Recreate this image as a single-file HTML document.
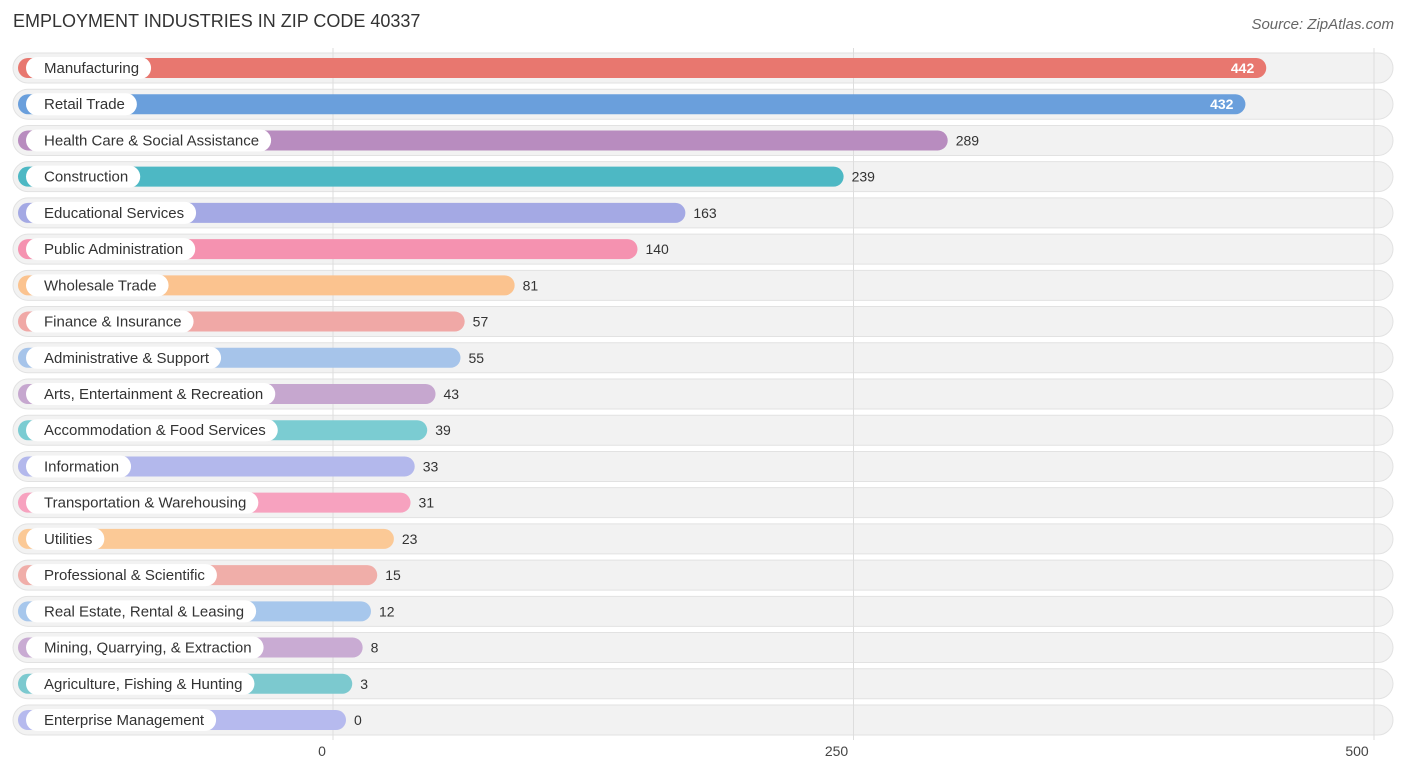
<!DOCTYPE html>
<html><head><meta charset="utf-8"><style>
body{margin:0;background:#fff;font-family:"Liberation Sans",sans-serif;}
#wrap{position:relative;width:1406px;height:776px;overflow:hidden;}
.t{position:absolute;white-space:nowrap;}
</style></head><body>
<div id="wrap">
<div class="t" style="left:13px;top:11px;font-size:18px;color:#333;">EMPLOYMENT INDUSTRIES IN ZIP CODE 40337</div>
<div class="t" style="right:12px;top:16px;font-size:15px;color:#666;font-style:italic;">Source: ZipAtlas.com</div>
<svg id="svg" width="1406" height="776" style="position:absolute;left:0;top:0"></svg>
</div>
<script>
const categories=["Manufacturing","Retail Trade","Health Care & Social Assistance","Construction","Educational Services","Public Administration","Wholesale Trade","Finance & Insurance","Administrative & Support","Arts, Entertainment & Recreation","Accommodation & Food Services","Information","Transportation & Warehousing","Utilities","Professional & Scientific","Real Estate, Rental & Leasing","Mining, Quarrying, & Extraction","Agriculture, Fishing & Hunting","Enterprise Management"];
const values=[442,432,289,239,163,140,81,57,55,43,39,33,31,23,15,12,8,3,0];
const colors=["#e8776f","#6a9fdc","#b88cbf","#4db8c4","#a4a9e4","#f592b0","#fbc38f","#f0a8a6","#a6c4ea","#c6a7cf","#7bccd2","#b3b8ec","#f7a2bf","#fbc996","#f0aea9","#a7c7ec","#c9abd3","#7cc9cf","#b6baee"];
const ticks=[0,250,500];
const NS="http://www.w3.org/2000/svg";
const svg=document.getElementById('svg');
const x=v=>333+v*(1374-333)/500;
const y=i=>68+i*(720-68)/18;
function mk(tag,attrs){const e=document.createElementNS(NS,tag);for(const k in attrs)e.setAttribute(k,attrs[k]);svg.appendChild(e);return e;}
categories.forEach((c,i)=>{
  const r=mk('rect',{x:13,y:y(i)-15,width:1380,height:30,rx:15,fill:'#f2f2f2',stroke:'#e2e2e2'});
  
  
});
ticks.forEach(t=>{
  const l=mk('line',{x1:x(t),x2:x(t),y1:48,y2:740,stroke:'#ddd'});
  
  
  const tx=mk('text',{x:x(t)-(t===0?11:17),y:756,'font-size':14,fill:'#444','text-anchor':'middle'});
  tx.textContent=t;
  
  
});
categories.forEach((c,i)=>{
  const yc=y(i),end=x(values[i])+13;
  const b=mk('rect',{x:18,y:yc-10,width:end-18,height:20,rx:10,fill:colors[i]});
  
  
  const p=mk('rect',{x:26,y:yc-11,width:100,height:22,rx:11,fill:'#fff'});
  
  
  const lt=mk('text',{x:44,y:yc+5,'font-size':15,fill:'#333'});
  lt.textContent=c;
  
  
  let w=c.length*7.3;
  try{w=lt.getComputedTextLength();}catch(e){}
  p.setAttribute('width',w+30);
  const inside=values[i]>400;
  const vt=mk('text',{x:inside?end-12:end+8,y:yc+5,'font-size':14,fill:inside?'#fff':'#333','text-anchor':inside?'end':'start','font-weight':inside?'bold':'normal'});
  vt.textContent=values[i];
  
  
});
</script>
</body></html>
